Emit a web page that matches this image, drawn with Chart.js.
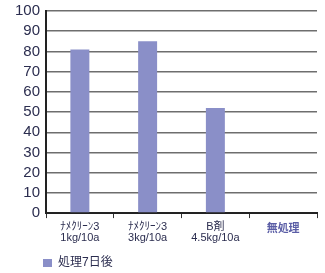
<!DOCTYPE html>
<html>
<head>
<meta charset="utf-8">
<script src="https://cdn.jsdelivr.net/npm/chart.js@4"></script>
<style>
  html, body { margin: 0; padding: 0; background: #fff; }
  #wrap { width: 325px; height: 273px; }
</style>
</head>
<body>
<div id="wrap"><canvas id="effectChart" width="325" height="273"></canvas></div>
<script>
// data
const categories = [
    ['ﾅﾒｸﾘｰﾝ3', '1kg/10a'],
    ['ﾅﾒｸﾘｰﾝ3', '3kg/10a'],
    ['B剤', '4.5kg/10a'],
    '無処理'
];
const seriesName = '処理7日後';
const values = [81, 85, 52, 0];
const yTicks = [0, 10, 20, 30, 40, 50, 60, 70, 80, 90, 100];

const fontFamily = '"Liberation Sans", Arial, "Noto Sans CJK JP", sans-serif';
const textColor = '#2b2d4f';

// put the legend under the plot, where the picture has it
const legendShift = {
    id: 'legendShift',
    afterLayout: function (chart) {
        if (chart.legend) {
            chart.legend.left = 37;
            chart.legend.top = 251;
        }
    }
};

const canvas = document.getElementById('effectChart');
const ctx = canvas.getContext('2d');

new Chart(ctx, {
    type: 'bar',
    data: {
        labels: categories,
        datasets: [{
            label: seriesName,
            data: values,
            backgroundColor: '#8a8fc8',
            borderWidth: 0,
            barPercentage: 0.56,
            categoryPercentage: 0.5
        }]
    },
    options: {
        responsive: false,
        animation: false,
        layout: {
            padding: { left: 0, right: 8, top: 11, bottom: 0 }
        },
        scales: {
            x: {
                afterFit: function (scale) { scale.height = scale.height - 2; },
                grid: {
                    display: true,
                    offset: true,
                    drawOnChartArea: false,
                    drawTicks: true,
                    tickLength: 5,
                    color: '#333'
                },
                border: { color: '#222', width: 2 },
                ticks: {
                    font: function (c) {
                        if (c.index === 3) {
                            return { family: fontFamily, size: 11, weight: 'bold' };
                        }
                        return { family: fontFamily, size: 11, lineHeight: 0.95 };
                    },
                    color: function (c) { return c.index === 3 ? '#5b5ea6' : textColor; },
                    maxRotation: 0,
                    autoSkip: false,
                    padding: 4
                }
            },
            y: {
                min: 0,
                max: 100,
                afterFit: function (scale) {
                    scale.width = 46;
                    scale.paddingTop = 0;
                    scale.paddingBottom = 0;
                },
                afterBuildTicks: function (scale) {
                    scale.ticks = yTicks.map(function (v) { return { value: v }; });
                },
                grid: {
                    color: '#6e6e6e',
                    lineWidth: 1.5,
                    drawTicks: false
                },
                border: { color: '#222', width: 2 },
                ticks: {
                    autoSkip: false,
                    font: { family: fontFamily, size: 15 },
                    color: textColor,
                    padding: 6
                }
            }
        },
        plugins: {
            legend: {
                position: 'bottom',
                align: 'start',
                labels: {
                    boxWidth: 9,
                    boxHeight: 8,
                    padding: 6,
                    color: textColor,
                    font: { family: fontFamily, size: 12 }
                }
            },
            tooltip: { enabled: false }
        }
    },
    plugins: [legendShift]
});
</script>
</body>
</html>
